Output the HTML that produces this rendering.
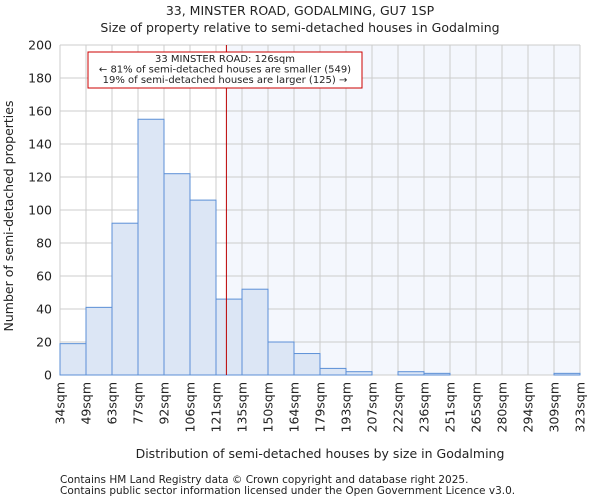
<!DOCTYPE html>
<html><head><meta charset="utf-8"><style>
body{margin:0;background:#fff;font-family:"DejaVu Sans","Liberation Sans",sans-serif}
svg text{font-family:"DejaVu Sans","Liberation Sans",sans-serif;fill:#222}
</style></head><body>
<svg id="chart" width="600" height="500" xmlns="http://www.w3.org/2000/svg">
<text x="300" y="15" text-anchor="middle" font-size="12.5">33, MINSTER ROAD, GODALMING, GU7 1SP</text>
<text x="300" y="32" text-anchor="middle" font-size="12.5">Size of property relative to semi-detached houses in Godalming</text>
<g id="plot"></g>
<text transform="translate(13,216) rotate(-90)" text-anchor="middle" font-size="12.5">Number of semi-detached properties</text>
<text x="320" y="458" text-anchor="middle" font-size="12.5">Distribution of semi-detached houses by size in Godalming</text>
<text x="60" y="483" font-size="10.5">Contains HM Land Registry data © Crown copyright and database right 2025.</text>
<text x="60" y="494" font-size="10.5">Contains public sector information licensed under the Open Government Licence v3.0.</text>
</svg>
<script>
const binLabels=["34sqm","49sqm","63sqm","77sqm","92sqm","106sqm","121sqm","135sqm","150sqm","164sqm","179sqm","193sqm","207sqm","222sqm","236sqm","251sqm","265sqm","280sqm","294sqm","309sqm","323sqm"];
const counts=[19,41,92,155,122,106,46,52,20,13,4,2,0,2,1,0,0,0,0,1];
const yTicks=[0,20,40,60,80,100,120,140,160,180,200];
const propertyBinPos=[6.4];
const NS="http://www.w3.org/2000/svg";
const L=60,R=580,T=45,B=375,yMax=200;
const bw=(R-L)/counts.length;
const xs=i=>L+i*bw, ys=v=>B-v/yMax*(B-T);
const g=document.getElementById('plot');
function mk(t,a){const e=document.createElementNS(NS,t);for(const k in a)e.setAttribute(k,a[k]);g.appendChild(e);return e;}
const px=xs(propertyBinPos[0]);
let e=mk('rect',{x:px,y:T,width:R-px,height:B-T,fill:'#f4f7fd'});


yTicks.forEach(v=>{
 let l=mk('line',{x1:L,x2:R,y1:ys(v),y2:ys(v),stroke:'#ccc','stroke-width':1});
 
 
 let t=mk('text',{x:L-8,y:ys(v)+4.5,'text-anchor':'end','font-size':'12.5'});t.textContent=v;
 
 
});
binLabels.forEach((s,i)=>{
 let l=mk('line',{x1:xs(i),x2:xs(i),y1:T,y2:B,stroke:'#ccc','stroke-width':1});
 
 
 let t=mk('text',{transform:`translate(${xs(i)+4.5},382) rotate(-90)`,'text-anchor':'end','font-size':'12.5'});t.textContent=s;
 
 
});
counts.forEach((c,i)=>{
 let r=mk('rect',{x:xs(i),y:ys(c),width:bw,height:B-ys(c),fill:'#dce6f5',stroke:'#5b8fd6','stroke-width':1});
 
 
});
e=mk('line',{x1:px,x2:px,y1:T,y2:B,stroke:'#b00','stroke-width':1});


e=mk('rect',{x:88,y:52,width:274,height:36,fill:'#fff',stroke:'#c00','stroke-width':1});


["33 MINSTER ROAD: 126sqm","← 81% of semi-detached houses are smaller (549)","19% of semi-detached houses are larger (125) →"].forEach((s,i)=>{
 let t=mk('text',{x:225,y:62+i*10.5,'text-anchor':'middle','font-size':'10'});t.textContent=s;
 
 
});
</script>
</body></html>
